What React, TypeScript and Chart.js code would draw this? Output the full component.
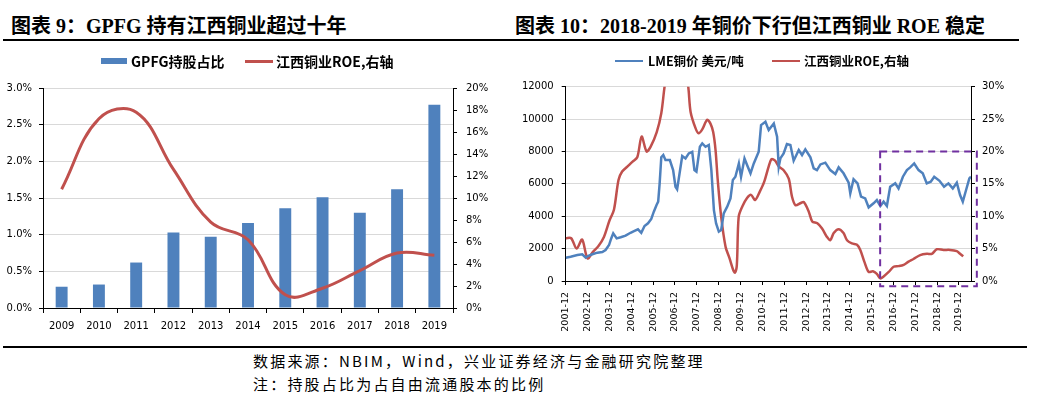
import React, { useEffect, useRef } from "react";
import { Chart, registerables } from "chart.js";
Chart.register(...registerables);

// ---------- Left chart data ----------
const years = ["2009", "2010", "2011", "2012", "2013", "2014", "2015", "2016", "2017", "2018", "2019"];
const gpfgShare = [0.29, 0.32, 0.62, 1.03, 0.97, 1.16, 1.36, 1.51, 1.3, 1.62, 2.77];
const roeAnnual = [10.8, 17.2, 17.8, 12.6, 7.8, 6.2, 1.2, 1.8, 3.4, 5.0, 4.8];

// ---------- Right chart data (x = months since 2001-12) ----------
const xTickLabels = [
  "2001-12", "2002-12", "2003-12", "2004-12", "2005-12", "2006-12", "2007-12", "2008-12", "2009-12", "2010-12",
  "2011-12", "2012-12", "2013-12", "2014-12", "2015-12", "2016-12", "2017-12", "2018-12", "2019-12",
];
const lmeMonth = [
  0, 2.7, 6.4, 9.1, 11, 12.2, 14.6, 17.4, 20.1, 21.9, 23.8, 25, 26.1, 28, 30.2, 32.9, 35.6, 37.8, 39.7, 41.5,
  43.3, 45.2, 47, 48.4, 49.9, 50.8, 51.6, 52.5, 53.6, 54.8, 57.2, 59, 60.3, 61.2, 63.1, 64, 65.8, 67.6, 69.5, 70.7,
  71.8, 73.7, 75, 76.8, 78.6, 80, 81.4, 82.6, 84.1, 85.4, 86.8, 88.7, 90.5, 91.8, 93.2, 95.1, 96.3, 98.2, 100, 101.5,
  103.3, 106, 107.3, 109.7, 111.5, 114.3, 116.1, 117, 117.9, 119.7, 121.5, 123.4, 125.2, 128, 129.8, 131.6, 134.4, 136.2, 138, 139.9,
  142.6, 145.3, 148.1, 149.9, 152.6, 155.4, 156.3, 158.1, 160.3, 162.2, 164.5, 166.4, 169.1, 170.9, 172.8, 174.6, 176.4, 178.2, 181, 182.8,
  185.2, 187.4, 189.2, 191.4, 193.8, 196.1, 198.3, 200.5, 202.4, 205.3, 207.8, 210.2, 212.6, 214.8, 216.6, 218.1, 219.9, 221.7, 222.6,
];
const lmePrice = [
  1440, 1500, 1600, 1650, 1440, 1540, 1650, 1750, 1790, 1910, 2220, 2630, 2940, 2630, 2700, 2800, 2980, 3090, 3190, 2980,
  3400, 3560, 3830, 4280, 4690, 4900, 6030, 7640, 7780, 7470, 7470, 6850, 5820, 5660, 7060, 7720, 7570, 7880, 7980, 6850,
  6750, 8290, 8500, 8290, 8400, 6850, 4380, 3560, 3050, 3150, 4180, 4590, 5100, 6240, 6440, 7260, 6440, 7570, 7060, 6650,
  7260, 7980, 9630, 9840, 9320, 9730, 8910, 7060, 7570, 7880, 8460, 8400, 7430, 8090, 7780, 8130, 7640, 6960, 6850, 7200,
  7310, 6850, 6610, 7020, 6650, 6070, 5410, 6280, 6030, 5210, 5100, 4550, 4800, 5000, 4630, 4900, 4630, 5820, 6030, 5720,
  6440, 6850, 7020, 7260, 6850, 6650, 6030, 6130, 6440, 6190, 5820, 6030, 5720, 6070, 5310, 4900, 5620, 6340, 6440,
];
const roeMonth = [
  0, 3, 6, 9, 12, 15, 18, 21, 24, 26.5, 29, 31, 34, 36.6, 39.3, 41.7, 44.4, 46.6, 50, 52.5,
  54.3, 57, 60, 64, 67.3, 68.6, 71.3, 73, 75, 77.7, 79.5, 81, 82.3, 83.5, 85.4, 87.8, 90, 92, 93, 94,
  95, 97, 99.6, 101.8, 104, 106.6, 109, 111.5, 113, 115, 117, 119.7, 122.5, 124.3, 126.2, 128.9, 130.7, 133.5, 135.4, 138.2,
  140.8, 143.5, 145.3, 147.2, 149.9, 152.6, 154.5, 157.2, 160, 161.8, 164, 166.4, 168.7, 170.9, 172.8, 174.6, 177.4, 180.1, 182.8, 185.6,
  188.3, 191, 194.7, 198.4, 201.1, 203.8, 207.5, 211.1, 214.8, 216.6, 218.3,
];
const roeValue = [
  6.6, 6.6, 5.0, 6.4, 3.5, 4.5, 5.4, 6.8, 9.3, 11, 15.6, 16.9, 17.7, 18.4, 19.1, 22.3, 20, 20.7, 23, 25.9,
  30, 35, 38, 36, 30, 26.1, 23.6, 22.8, 23.4, 24.9, 24.3, 23, 20.2, 15.6, 9.9, 5.3, 3.5, 1.7, 1.3, 2.5,
  9.9, 11.5, 12.8, 13.3, 12.5, 13.8, 15.3, 17.7, 18.8, 18.6, 17.7, 17.1, 15.8, 13, 11.7, 12, 12.2, 10.7, 9.2, 8.9,
  8.1, 6.8, 6.3, 7.4, 8.0, 7.4, 6.3, 5.8, 5.6, 4.8, 3.0, 1.4, 1.5, 1.1, 0.4, 0.7, 1.4, 2.2, 2.3, 2.5,
  3.0, 3.4, 4.0, 4.2, 4.2, 4.9, 4.8, 4.8, 4.6, 4.2, 3.8,
];
// highlighted window (months, right-axis %)
const boxMonths = [172.7, 225.8];
const boxRoe = [20, -0.8];

const BLUE = "#4F81BD";
const RED = "#C0504D";
const GRID = "#d9d9d9";
const TICK_FONT = { family: "'DejaVu Sans', sans-serif", size: 10 };

const boxPlugin = {
  id: "dashBox",
  afterDraw(chart: any) {
    const x = chart.scales.x;
    const y1 = chart.scales.y1;
    if (!x || !y1 || chart.canvas.dataset.box !== "1") return;
    const ctx = chart.ctx;
    const l = x.getPixelForValue(boxMonths[0]);
    const r = x.getPixelForValue(boxMonths[1]);
    const t = y1.getPixelForValue(boxRoe[0]);
    const b = y1.getPixelForValue(boxRoe[1]);
    ctx.save();
    ctx.strokeStyle = "#7030A0";
    ctx.lineWidth = 2;
    ctx.setLineDash([7, 5]);
    ctx.strokeRect(l, t, r - l, b - t);
    ctx.restore();
  },
};

function LeftChart() {
  const ref = useRef<HTMLCanvasElement>(null);
  useEffect(() => {
    const chart = new Chart(ref.current!, {
      type: "bar",
      data: {
        labels: years,
        datasets: [
          {
            type: "bar",
            label: "GPFG持股占比",
            data: gpfgShare,
            backgroundColor: BLUE,
            yAxisID: "y",
            barPercentage: 0.32,
            categoryPercentage: 1,
            order: 1,
          } as any,
          {
            type: "line",
            label: "江西铜业ROE,右轴",
            data: roeAnnual,
            borderColor: RED,
            borderWidth: 3,
            pointRadius: 0,
            tension: 0.4,
            yAxisID: "y1",
            order: 0,
          } as any,
        ],
      },
      options: {
        responsive: false,
        animation: false,
        layout: { padding: { top: 48, left: 0, right: 0, bottom: 0 } },
        plugins: { legend: { display: false }, tooltip: { enabled: false } },
        scales: {
          x: {
            grid: { drawOnChartArea: false, drawTicks: true, tickLength: 5, tickColor: "#000", offset: true },
            border: { color: "#000" },
            ticks: { font: TICK_FONT, color: "#000", padding: 7 },
            afterFit: (s: any) => { s.height = 37; },
          },
          y: {
            position: "left",
            min: 0,
            max: 3,
            ticks: { stepSize: 0.5, font: TICK_FONT, color: "#000", padding: 7, callback: (v: any) => Number(v).toFixed(1) + "%" },
            grid: { color: GRID, tickColor: "#000", tickLength: 4 },
            border: { color: "#000" },
            afterFit: (s: any) => { s.width = 43; },
          },
          y1: {
            position: "right",
            min: 0,
            max: 20,
            ticks: { stepSize: 2, font: TICK_FONT, color: "#000", padding: 9, callback: (v: any) => v + "%" },
            grid: { drawOnChartArea: false, tickColor: "#000", tickLength: 4 },
            border: { color: "#000" },
            afterFit: (s: any) => { s.width = 57; },
          },
        },
      } as any,
    });
    return () => chart.destroy();
  }, []);
  return <canvas ref={ref} width={510} height={305} style={{ position: "absolute", left: 0, top: 40 }} />;
}

function RightChart() {
  const ref = useRef<HTMLCanvasElement>(null);
  useEffect(() => {
    const chart = new Chart(ref.current!, {
      type: "line",
      data: {
        datasets: [
          {
            label: "LME铜价 美元/吨",
            data: lmeMonth.map((m, i) => ({ x: m, y: lmePrice[i] })),
            borderColor: BLUE,
            borderWidth: 2.5,
            pointRadius: 0,
            tension: 0,
            yAxisID: "y",
          },
          {
            label: "江西铜业ROE,右轴",
            data: roeMonth.map((m, i) => ({ x: m, y: roeValue[i] })),
            borderColor: RED,
            borderWidth: 2.5,
            pointRadius: 0,
            tension: 0.3,
            yAxisID: "y1",
          },
        ],
      },
      options: {
        responsive: false,
        animation: false,
        layout: { padding: { top: 46.7, left: 0, right: 0, bottom: 0 } },
        plugins: { legend: { display: false }, tooltip: { enabled: false } },
        scales: {
          x: {
            type: "linear",
            min: 0,
            max: 222.6,
            afterBuildTicks: (s: any) => {
              s.ticks = xTickLabels.map((_, i) => ({ value: i * 12 }));
            },
            ticks: {
              autoSkip: false,
              minRotation: 90,
              maxRotation: 90,
              font: { family: "'DejaVu Sans', sans-serif", size: 9.5 },
              color: "#000",
              padding: 7,
              callback: (v: any) => xTickLabels[Math.round(Number(v) / 12)],
            },
            grid: { drawOnChartArea: false, tickColor: "#000", tickLength: 4 },
            border: { color: "#000" },
            afterFit: (s: any) => { s.height = 64; },
          },
          y: {
            position: "left",
            min: 0,
            max: 12000,
            ticks: { stepSize: 2000, font: TICK_FONT, color: "#000", padding: 8, callback: (v: any) => String(v) },
            grid: { color: GRID, tickColor: "#000", tickLength: 4 },
            border: { color: "#000" },
            afterFit: (s: any) => { s.width = 55.7; },
          },
          y1: {
            position: "right",
            min: 0,
            max: 30,
            ticks: { stepSize: 5, font: TICK_FONT, color: "#000", padding: 7, callback: (v: any) => v + "%" },
            grid: { drawOnChartArea: false, tickColor: "#000", tickLength: 4 },
            border: { color: "#000" },
            afterFit: (s: any) => { s.width = 83; },
          },
        },
      } as any,
      plugins: [boxPlugin],
    });
    return () => chart.destroy();
  }, []);
  return (
    <canvas ref={ref} data-box="1" width={544} height={305} style={{ position: "absolute", left: 510, top: 40 }} />
  );
}

const titleStyle: React.CSSProperties = {
  position: "absolute",
  top: 16,
  fontFamily: "'Liberation Serif', 'Noto Sans CJK SC', serif",
  fontWeight: 700,
  fontSize: 20,
  lineHeight: "20px",
  whiteSpace: "nowrap",
  color: "#000",
};
const legendText = (size: number): React.CSSProperties => ({
  position: "absolute",
  fontFamily: "'Noto Sans CJK SC', sans-serif",
  fontWeight: 700,
  fontSize: size,
  lineHeight: `${size}px`,
  top: 61 - size / 2,
  whiteSpace: "nowrap",
  color: "#000",
});
const footStyle: React.CSSProperties = {
  position: "absolute",
  left: 253,
  fontFamily: "'Noto Sans CJK SC', sans-serif",
  fontSize: 15,
  lineHeight: "15px",
  letterSpacing: "2.2px",
  whiteSpace: "nowrap",
  color: "#000",
};

export default function App() {
  return (
    <div style={{ position: "absolute", left: 0, top: 0, width: 1054, height: 396, background: "#fff", overflow: "hidden" }}>
      <div style={{ ...titleStyle, left: 11 }}>图表 9：GPFG 持有江西铜业超过十年</div>
      <div style={{ ...titleStyle, left: 515 }}>图表 10：2018-2019 年铜价下行但江西铜业 ROE 稳定</div>
      <div style={{ position: "absolute", left: 3, top: 39, width: 1016, height: 1.5, background: "#000" }} />
      <LeftChart />
      <RightChart />
      {/* left legend */}
      <div style={{ position: "absolute", left: 101, top: 58, width: 26, height: 6, background: BLUE }} />
      <div style={{ ...legendText(14), left: 131 }}>GPFG持股占比</div>
      <div style={{ position: "absolute", left: 245, top: 60, width: 28, height: 2.5, background: RED }} />
      <div style={{ ...legendText(14), left: 276 }}>江西铜业ROE,右轴</div>
      {/* right legend */}
      <div style={{ position: "absolute", left: 615, top: 60, width: 28, height: 2, background: BLUE }} />
      <div style={{ ...legendText(12.5), left: 648 }}>LME铜价 美元/吨</div>
      <div style={{ position: "absolute", left: 772, top: 60, width: 28, height: 2, background: RED }} />
      <div style={{ ...legendText(12.5), left: 804 }}>江西铜业ROE,右轴</div>
      <div style={{ position: "absolute", left: 3, top: 346, width: 1024, height: 1.5, background: "#000" }} />
      <div style={{ ...footStyle, top: 352.5 }}>数据来源：NBIM，Wind，兴业证券经济与金融研究院整理</div>
      <div style={{ ...footStyle, top: 375.5 }}>注：持股占比为占自由流通股本的比例</div>
    </div>
  );
}
